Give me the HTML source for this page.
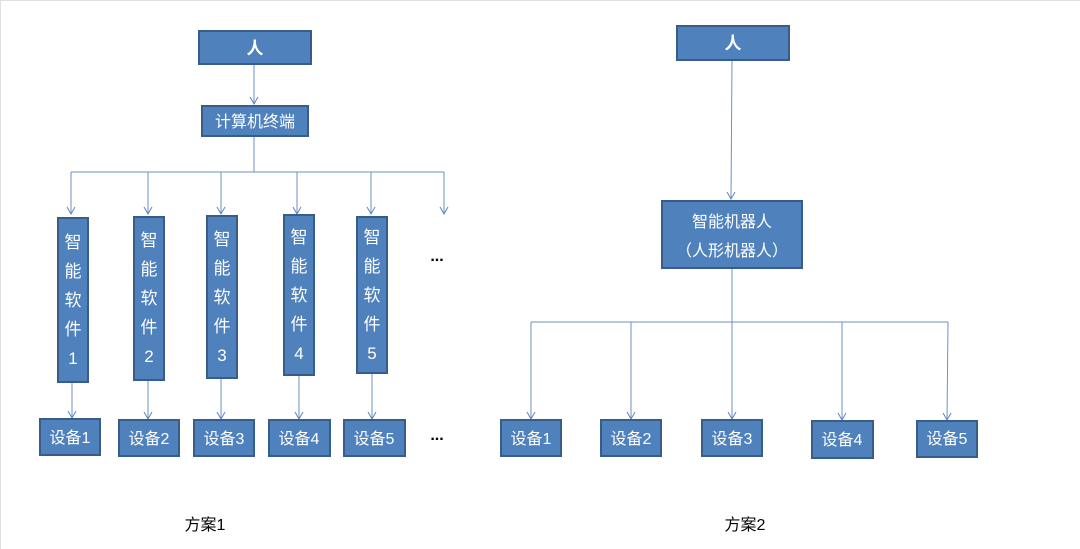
<!DOCTYPE html>
<html><head><meta charset="utf-8"><style>
html,body{margin:0;padding:0;background:#fff;}
svg{display:block;}
text{font-family:"Liberation Sans","Noto Sans CJK SC",sans-serif;}
</style></head><body>
<svg width="1080" height="549" viewBox="0 0 1080 549" xmlns="http://www.w3.org/2000/svg">
<defs>
<marker id="a" markerWidth="12" markerHeight="12" refX="9" refY="6" orient="auto" markerUnits="userSpaceOnUse">
<path d="M2,2 L9,6 L2,10" fill="none" stroke="#5b86c0" stroke-width="1"/>
</marker>
</defs>
<line x1="0" y1="0.5" x2="1080" y2="0.5" stroke="#e0e0e0"/>
<line x1="0.5" y1="0" x2="0.5" y2="549" stroke="#e0e0e0"/>
<g fill="none" stroke="#6a92c8" stroke-width="1">
<line x1="254" y1="64" x2="254" y2="104" marker-end="url(#a)"/>
<line x1="254" y1="136" x2="254" y2="172"/>
<line x1="71" y1="172" x2="444" y2="172"/>
<line x1="71" y1="172" x2="71" y2="214" marker-end="url(#a)"/>
<line x1="148" y1="172" x2="148" y2="214" marker-end="url(#a)"/>
<line x1="221" y1="172" x2="221" y2="214" marker-end="url(#a)"/>
<line x1="297" y1="172" x2="297" y2="214" marker-end="url(#a)"/>
<line x1="371" y1="172" x2="371" y2="214" marker-end="url(#a)"/>
<line x1="444" y1="172" x2="444" y2="214" marker-end="url(#a)"/>
<line x1="72" y1="382" x2="72" y2="418" marker-end="url(#a)"/>
<line x1="148" y1="380" x2="148" y2="419" marker-end="url(#a)"/>
<line x1="221" y1="378" x2="221" y2="419" marker-end="url(#a)"/>
<line x1="299" y1="375" x2="299" y2="419" marker-end="url(#a)"/>
<line x1="372" y1="373" x2="372" y2="419" marker-end="url(#a)"/>
<line x1="732" y1="60" x2="731" y2="199" marker-end="url(#a)"/>
<line x1="732" y1="268" x2="732" y2="322"/>
<line x1="531" y1="322" x2="948" y2="322"/>
<line x1="531" y1="322" x2="531" y2="419" marker-end="url(#a)"/>
<line x1="631" y1="322" x2="631" y2="419" marker-end="url(#a)"/>
<line x1="732" y1="322" x2="732" y2="419" marker-end="url(#a)"/>
<line x1="842" y1="322" x2="842" y2="420" marker-end="url(#a)"/>
<line x1="948" y1="322" x2="947" y2="420" marker-end="url(#a)"/>
</g>
<g fill="#4f81bd" stroke="#385d8a" stroke-width="2">
<rect x="199" y="31" width="112" height="33"/>
<rect x="202" y="106" width="106" height="30"/>
<rect x="58" y="218" width="30" height="164"/>
<rect x="134" y="217" width="30" height="163"/>
<rect x="207" y="216" width="30" height="162"/>
<rect x="284" y="215" width="30" height="160"/>
<rect x="357" y="217" width="30" height="156"/>
<rect x="40" y="419" width="60" height="36"/>
<rect x="119" y="420" width="60" height="36"/>
<rect x="194" y="420" width="60" height="36"/>
<rect x="269" y="420" width="61" height="36"/>
<rect x="344" y="420" width="61" height="36"/>
<rect x="677" y="26" width="112" height="34"/>
<rect x="662" y="201" width="140" height="67"/>
<rect x="501" y="420" width="60" height="36"/>
<rect x="601" y="420" width="60" height="36"/>
<rect x="702" y="420" width="60" height="36"/>
<rect x="812" y="421" width="61" height="37"/>
<rect x="917" y="421" width="60" height="36"/>
</g>
<g fill="#fff" font-size="16" text-anchor="middle">
<text x="255" y="54" font-weight="bold" font-size="17">人</text>
<text x="733" y="49" font-weight="bold" font-size="17">人</text>
<text x="255" y="127">计算机终端</text>
<g font-size="17">
<text x="73" y="248">智</text><text x="73" y="277">能</text><text x="73" y="306">软</text><text x="73" y="335">件</text><text x="73" y="364">1</text>
<text x="149" y="246">智</text><text x="149" y="275">能</text><text x="149" y="304">软</text><text x="149" y="333">件</text><text x="149" y="362">2</text>
<text x="222" y="245">智</text><text x="222" y="274">能</text><text x="222" y="303">软</text><text x="222" y="332">件</text><text x="222" y="361">3</text>
<text x="299" y="243">智</text><text x="299" y="272">能</text><text x="299" y="301">软</text><text x="299" y="330">件</text><text x="299" y="359">4</text>
<text x="372" y="243">智</text><text x="372" y="272">能</text><text x="372" y="301">软</text><text x="372" y="330">件</text><text x="372" y="359">5</text>
</g>
<text x="70" y="443">设备1</text>
<text x="149" y="444">设备2</text>
<text x="224" y="444">设备3</text>
<text x="299" y="444">设备4</text>
<text x="374" y="444">设备5</text>
<text x="732" y="227">智能机器人</text>
<text x="732" y="256">（人形机器人）</text>
<text x="531" y="444">设备1</text>
<text x="631" y="444">设备2</text>
<text x="732" y="444">设备3</text>
<text x="842" y="445">设备4</text>
<text x="947" y="444">设备5</text>
</g>
<g fill="#000" font-size="16" text-anchor="middle">
<text x="437" y="261" font-weight="bold">...</text>
<text x="437" y="440" font-weight="bold">...</text>
<text x="205" y="530">方案1</text>
<text x="745" y="530">方案2</text>
</g>
</svg>
</body></html>
